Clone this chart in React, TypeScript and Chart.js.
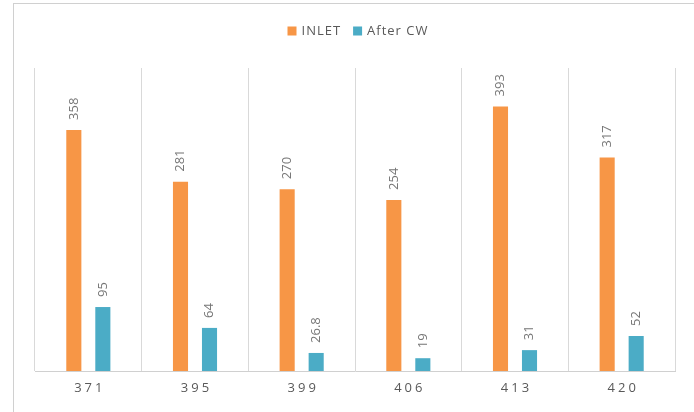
import React, { useEffect, useRef } from 'react';
import { Chart, registerables } from 'chart.js';

Chart.register(...registerables);

const categories = ['371', '395', '399', '406', '413', '420'];
const inletValues = [358, 281, 270, 254, 393, 317];
const afterCwValues = [95, 64, 26.8, 19, 31, 52];
const seriesNames = ['INLET', 'After CW'];
const seriesColors = ['#F79646', '#4BACC6'];
const yMin = 0;
const yMax = 450;

const FONT = '"Open Sans", "DejaVu Sans", sans-serif';

const barLabelPlugin = {
  id: 'barLabels',
  afterDatasetsDraw(chart: any) {
    const ctx = chart.ctx;
    ctx.save();
    ctx.font = `13px ${FONT}`;
    ctx.fillStyle = '#767676';
    ctx.textAlign = 'left';
    ctx.textBaseline = 'middle';
    chart.data.datasets.forEach((ds: any, i: number) => {
      const meta = chart.getDatasetMeta(i);
      meta.data.forEach((bar: any, j: number) => {
        ctx.save();
        ctx.translate(bar.x, bar.y - 10);
        ctx.rotate(-Math.PI / 2);
        ctx.fillText(String(ds.data[j]), 0, 0);
        ctx.restore();
      });
    });
    ctx.restore();
  },
};

const xLabelPlugin = {
  id: 'xLabels',
  afterDraw(chart: any) {
    const ctx = chart.ctx;
    const xs = chart.scales.x;
    ctx.save();
    ctx.font = `13px ${FONT}`;
    (ctx as any).letterSpacing = '3px';
    ctx.fillStyle = '#595959';
    ctx.textAlign = 'center';
    ctx.textBaseline = 'middle';
    xs.ticks.forEach((t: any, i: number) => {
      const x = xs.getPixelForTick(i);
      ctx.fillText(String(xs.getLabelForValue(t.value)), x + 1.5, chart.chartArea.bottom + 17);
    });
    (ctx as any).letterSpacing = '0px';
    ctx.restore();
  },
};

const legendPlugin = {
  id: 'topLegend',
  afterDraw(chart: any) {
    const ctx = chart.ctx;
    ctx.save();
    ctx.font = `13px ${FONT}`;
    (ctx as any).letterSpacing = '1px';
    ctx.textBaseline = 'middle';
    ctx.textAlign = 'left';
    const box = 9;
    const gap = 5;
    const itemGap = 12;
    const items = chart.data.datasets.map((ds: any) => ({
      text: ds.label,
      color: ds.backgroundColor,
      w: box + gap + ctx.measureText(ds.label).width,
    }));
    const total = items.reduce((s: number, it: any) => s + it.w, 0) + itemGap * (items.length - 1);
    const cx = (chart.chartArea.left + chart.chartArea.right) / 2 + 3;
    let x = cx - total / 2;
    const y = 31;
    items.forEach((it: any) => {
      ctx.fillStyle = it.color;
      ctx.fillRect(x, y - box / 2, box, box);
      ctx.fillStyle = '#595959';
      ctx.fillText(it.text, x + box + gap, y + 0.5);
      x += it.w + itemGap;
    });
    (ctx as any).letterSpacing = '0px';
    ctx.restore();
  },
};

export default function App() {
  const canvasRef = useRef<HTMLCanvasElement | null>(null);

  useEffect(() => {
    if (!canvasRef.current) return;
    const chart = new Chart(canvasRef.current, {
      type: 'bar',
      data: {
        labels: categories,
        datasets: [
          {
            label: seriesNames[0],
            data: inletValues,
            backgroundColor: seriesColors[0],
            categoryPercentage: 0.544,
            barPercentage: 0.52,
          },
          {
            label: seriesNames[1],
            data: afterCwValues,
            backgroundColor: seriesColors[1],
            categoryPercentage: 0.544,
            barPercentage: 0.52,
          },
        ],
      },
      options: {
        responsive: false,
        animation: false,
        layout: { padding: { left: 35, right: 19, top: 68, bottom: 41 } },
        plugins: {
          legend: { display: false },
          tooltip: { enabled: false },
          title: { display: false },
        },
        scales: {
          x: {
            grid: { offset: true, color: '#D9D9D9', drawTicks: false, lineWidth: 1 },
            border: { color: '#D0D0D0', width: 1 },
            ticks: { display: false },
          },
          y: {
            display: false,
            min: yMin,
            max: yMax,
          },
        },
      },
      plugins: [barLabelPlugin, xLabelPlugin, legendPlugin],
    } as any);
    return () => chart.destroy();
  }, []);

  return (
    <div
      style={{
        position: 'fixed',
        left: 0,
        top: 0,
        width: 694,
        height: 412,
        background: '#FFFFFF',
        overflow: 'hidden',
      }}
    >
      <div
        style={{
          position: 'absolute',
          left: 13,
          top: 3,
          width: 720,
          height: 440,
          borderLeft: '1px solid #D0D0D0',
          borderTop: '1px solid #D0D0D0',
          pointerEvents: 'none',
        }}
      />
      <canvas ref={canvasRef} width={694} height={412} style={{ position: 'absolute', left: 0, top: 0 }} />
    </div>
  );
}
